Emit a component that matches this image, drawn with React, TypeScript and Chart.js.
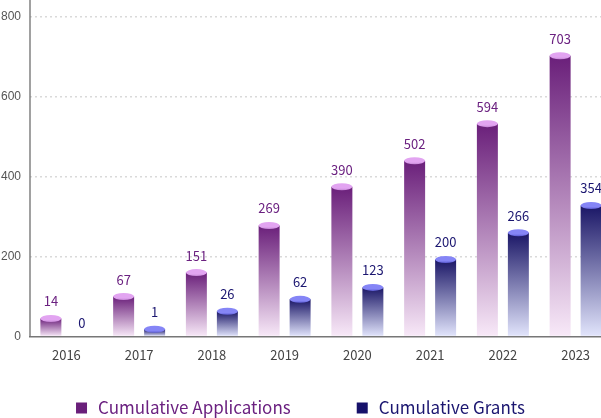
import React, { useEffect, useRef } from "react";
import { Chart, registerables } from "chart.js";

Chart.register(...registerables);

const years = ["2016", "2017", "2018", "2019", "2020", "2021", "2022", "2023"];
// bar heights as drawn in the picture
const applicationsBar = [45, 100, 160, 278, 375, 440, 533, 703];
const grantsBar = [0, 18, 63, 93, 123, 193, 260, 328];
// printed value labels
const applicationsLabels = [14, 67, 151, 269, 390, 502, 594, 703];
const grantsLabels = [0, 1, 26, 62, 123, 200, 266, 354];
const seriesNames = ["Cumulative Applications", "Cumulative Grants"];

const APP_TOP = "#6a1f7a";
const APP_BOTTOM = "#f8e9f8";
const APP_CAP = "#e2a4f1";
const APP_CAP_EDGE = "#c587d6";
const APP_TEXT = "#6b2180";
const GR_TOP = "#1a1666";
const GR_BOTTOM = "#e2e5fc";
const GR_CAP = "#8585f6";
const GR_CAP_EDGE = "#5b5bd2";
const GR_TEXT = "#1b1670";

const FONT = "'Noto Sans CJK SC', 'Noto Sans', sans-serif";

function gradientFor(top: string, bottom: string) {
  return (ctx: any) => {
    const chart = ctx.chart;
    const ys = chart.scales && chart.scales.y;
    if (!ys || ctx.type !== "data" || ctx.raw == null) return top;
    const yTop = ys.getPixelForValue(ctx.raw);
    const yBot = ys.getPixelForValue(0);
    if (!isFinite(yTop) || !isFinite(yBot) || Math.abs(yBot - yTop) < 1) return top;
    const g = chart.ctx.createLinearGradient(0, yTop, 0, yBot);
    g.addColorStop(0, top);
    g.addColorStop(1, bottom);
    return g;
  };
}

const decorPlugin = {
  id: "decor",
  afterDatasetsDraw(chart: any) {
    const { ctx, chartArea } = chart;
    const caps = [
      [APP_CAP, APP_CAP_EDGE, APP_TEXT, applicationsLabels],
      [GR_CAP, GR_CAP_EDGE, GR_TEXT, grantsLabels],
    ] as any[];
    chart.data.datasets.forEach((ds: any, di: number) => {
      const meta = chart.getDatasetMeta(di);
      const [cap, edge, txt, labels] = caps[di];
      meta.data.forEach((el: any, i: number) => {
        const v = ds.data[i];
        const rx = el.width / 2;
        const ry = 3.5;
        if (v > 0) {
          ctx.save();
          const g = ctx.createLinearGradient(0, el.y - ry, 0, el.y + ry);
          g.addColorStop(0, cap);
          g.addColorStop(0.7, cap);
          g.addColorStop(1, edge);
          ctx.fillStyle = g;
          ctx.beginPath();
          ctx.ellipse(el.x, el.y, rx, ry, 0, 0, Math.PI * 2);
          ctx.fill();
          ctx.restore();
        }
        ctx.save();
        ctx.fillStyle = txt;
        ctx.font = `13px ${FONT}`;
        ctx.textAlign = "center";
        ctx.textBaseline = "middle";
        const off = v > 0 ? 17 : 13;
        ctx.fillText(String(labels[i]), el.x, el.y - off);
        ctx.restore();
      });
    });
    // y axis line extending to the top
    ctx.save();
    ctx.strokeStyle = "#6e6e6e";
    ctx.lineWidth = 1.3;
    ctx.beginPath();
    ctx.moveTo(chartArea.left, 0);
    ctx.lineTo(chartArea.left, chartArea.bottom);
    ctx.stroke();
    ctx.restore();
  },
  afterDraw(chart: any) {
    const { ctx } = chart;
    const visibleCenter = 300.5;
    const cy = 408;
    const box = 11;
    const gapText = 11;
    const gapItems = 66;
    ctx.save();
    ctx.font = `17px ${FONT}`;
    const widths = seriesNames.map((n) => ctx.measureText(n).width);
    const total = widths.reduce((a, w) => a + box + gapText + w, 0) + gapItems * (seriesNames.length - 1);
    let x = visibleCenter - total / 2;
    const colors = [["#6a1f7a", APP_TEXT], ["#16116a", GR_TEXT]];
    seriesNames.forEach((n, i) => {
      ctx.fillStyle = colors[i][0];
      ctx.fillRect(x, cy - box / 2, box, box);
      x += box + gapText;
      ctx.fillStyle = colors[i][1];
      ctx.textAlign = "left";
      ctx.textBaseline = "middle";
      ctx.fillText(n, x, cy);
      x += widths[i] + gapItems;
    });
    ctx.restore();
  },
};

export default function App() {
  const ref = useRef<HTMLCanvasElement | null>(null);
  useEffect(() => {
    if (!ref.current) return;
    const chart = new Chart(ref.current, {
      type: "bar",
      data: {
        labels: years,
        datasets: [
          {
            label: seriesNames[0],
            data: applicationsBar,
            backgroundColor: gradientFor(APP_TOP, APP_BOTTOM),
            borderWidth: 0,
            categoryPercentage: 0.852,
            barPercentage: 0.677,
          },
          {
            label: seriesNames[1],
            data: grantsBar,
            backgroundColor: gradientFor(GR_TOP, GR_BOTTOM),
            borderWidth: 0,
            categoryPercentage: 0.852,
            barPercentage: 0.677,
          },
        ],
      },
      options: {
        responsive: false,
        animation: false,
        devicePixelRatio: 1,
        layout: { padding: { top: 17, right: 0, bottom: 41.5, left: 0 } },
        plugins: {
          legend: { display: false },
          tooltip: { enabled: false },
        },
        scales: {
          x: {
            grid: { display: false, drawTicks: false },
            border: { display: true, color: "#777", width: 1.5 },
            ticks: {
              color: "#444",
              font: { size: 13, family: FONT },
              padding: 11,
              maxRotation: 0,
              autoSkip: false,
            },
            afterFit: (s: any) => {
              s.height = 40;
            },
          },
          y: {
            min: 0,
            max: 800,
            border: { display: false, dash: [2, 3] },
            grid: {
              color: (c: any) => (c.tick && c.tick.value === 0 ? "rgba(0,0,0,0)" : "#d9d9d9"),
              lineWidth: 1.5,
              drawTicks: false,
            },
            ticks: {
              stepSize: 200,
              color: "#555",
              font: { size: 12, family: "'Liberation Sans', Arial, sans-serif" },
              padding: 9,
            },
            afterFit: (s: any) => {
              s.width = 30;
            },
          },
        },
      },
      plugins: [decorPlugin],
    });
    return () => chart.destroy();
  }, []);
  return (
    <div style={{ position: "fixed", left: 0, top: 0, width: 601, height: 418, overflow: "hidden", background: "#fff" }}>
      <canvas ref={ref} width={612} height={418} style={{ display: "block", width: 612, height: 418 }} />
    </div>
  );
}
